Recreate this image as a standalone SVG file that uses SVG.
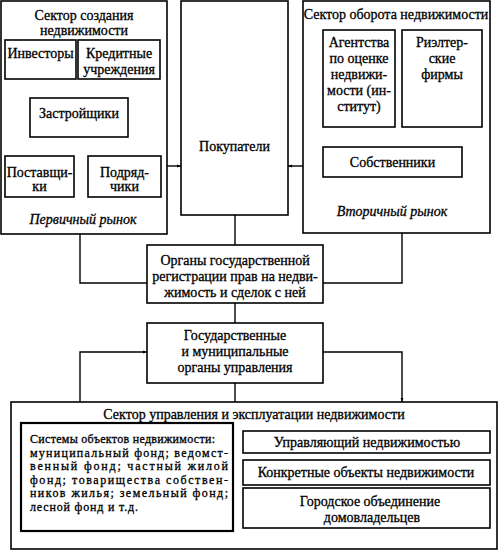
<svg xmlns="http://www.w3.org/2000/svg" width="500" height="551" viewBox="0 0 500 551" font-family="'Liberation Serif', 'DejaVu Serif', serif">
<defs>
<style>
.box{fill:#fff;stroke:#000;stroke-width:1.6}
.thick{fill:#fff;stroke:#000;stroke-width:2.2}
.ln{fill:none;stroke:#000;stroke-width:1.4}
.dot{fill:none;stroke:#000;stroke-width:1;stroke-dasharray:1.2 1.2}
text{font-family:'Liberation Serif','DejaVu Serif',serif;font-size:14px;fill:#000;text-anchor:middle;stroke:#000;stroke-width:0.3}
.it{font-style:italic}
.sm{font-size:12px;text-anchor:start}
</style>
<marker id="ah" markerUnits="userSpaceOnUse" markerWidth="4" markerHeight="4" refX="4" refY="2" orient="auto">
<path d="M0,0.6 L4,2 L0,3.4 Z" fill="#000"/>
</marker>
</defs>
<rect width="500" height="551" fill="#fff"/>

<g id="connectors">
<line class="ln" x1="59" y1="79" x2="59" y2="98"/>
<line class="ln" x1="98" y1="79" x2="98" y2="98"/>
<line class="ln" x1="59" y1="137" x2="59" y2="156"/>
<line class="ln" x1="98" y1="137" x2="98" y2="156"/>
<line class="ln" x1="74" y1="166" x2="88" y2="166"/>
<line class="ln" x1="167" y1="166" x2="181" y2="166" marker-end="url(#ah)"/>
<line class="ln" x1="303" y1="166" x2="288" y2="166" marker-end="url(#ah)"/>
<line class="ln" x1="352" y1="127" x2="352" y2="147" marker-end="url(#ah)"/>
<line class="ln" x1="430" y1="127" x2="430" y2="147" marker-end="url(#ah)"/>
<line class="ln" x1="235" y1="215" x2="235" y2="245"/>
<line class="ln" x1="235" y1="303" x2="235" y2="323"/>
<line class="ln" x1="235" y1="383" x2="235" y2="402"/>
<polyline class="ln" points="80,234 80,283 147,283"/>
<polyline class="ln" points="402,233 402,283 323,283"/>
<polyline class="ln" points="80,402 80,352 147,352" marker-end="url(#ah)"/>
<polyline class="ln" points="323,352 402,352 402,402" marker-end="url(#ah)"/>
<line class="dot" x1="233" y1="440" x2="243" y2="440"/>
<line class="ln" x1="233" y1="498" x2="243" y2="498"/>
<line class="ln" x1="372" y1="453" x2="372" y2="460"/>
<line class="ln" x1="372" y1="485" x2="372" y2="488"/>
</g>

<g id="sector-creation">
<rect class="box" x="1" y="1" width="166" height="233"/>
<text x="84" y="20">Сектор создания</text>
<text x="84" y="35">недвижимости</text>
<text class="it" x="83" y="224">Первичный рынок</text>
</g>
<g id="investors">
<rect class="box" x="5" y="40" width="71" height="39"/>
<text x="40.5" y="58">Инвесторы</text>
</g>
<g id="credit">
<rect class="box" x="78" y="40" width="82" height="39"/>
<text x="119" y="58">Кредитные</text>
<text x="119" y="74">учреждения</text>
</g>
<g id="developers">
<rect class="box" x="30" y="98" width="98" height="39"/>
<text x="79" y="118">Застройщики</text>
</g>
<g id="suppliers">
<rect class="box" x="5" y="156" width="69" height="41"/>
<text x="39.5" y="177">Поставщи-</text>
<text x="39.5" y="191">ки</text>
</g>
<g id="contractors">
<rect class="box" x="88" y="156" width="73" height="41"/>
<text x="124.5" y="177">Подряд-</text>
<text x="124.5" y="191">чики</text>
</g>

<g id="buyers">
<rect class="box" x="181" y="1" width="107" height="214"/>
<text x="234.5" y="151">Покупатели</text>
</g>

<g id="sector-turnover">
<rect class="box" x="303" y="1" width="187" height="232"/>
<text x="396" y="19">Сектор оборота недвижимости</text>
<text class="it" x="392" y="216">Вторичный рынок</text>
</g>
<g id="agencies">
<rect class="box" x="323" y="30" width="72" height="97"/>
<text x="359" y="47">Агентства</text>
<text x="359" y="63">по оценке</text>
<text x="359" y="79">недвижи-</text>
<text x="359" y="95">мости (ин-</text>
<text x="359" y="111">ститут)</text>
</g>
<g id="realtors">
<rect class="box" x="402" y="30" width="80" height="97"/>
<text x="442" y="47">Риэлтер-</text>
<text x="442" y="63">ские</text>
<text x="442" y="79">фирмы</text>
</g>
<g id="owners">
<rect class="box" x="323" y="147" width="139" height="30"/>
<text x="392.5" y="167">Собственники</text>
</g>

<g id="registration">
<rect class="box" x="147" y="245" width="176" height="58"/>
<text x="235" y="265">Органы государственной</text>
<text x="235" y="281">регистрации прав на недви-</text>
<text x="235" y="297">жимость и сделок с ней</text>
</g>

<g id="government">
<rect class="box" x="147" y="323" width="176" height="60"/>
<text x="235" y="340">Государственные</text>
<text x="235" y="356">и муниципальные</text>
<text x="235" y="372">органы управления</text>
</g>

<g id="sector-management">
<rect class="box" x="11" y="402" width="486" height="147"/>
<text x="254" y="419">Сектор управления и эксплуатации недвижимости</text>
</g>
<g id="systems">
<rect class="thick" x="21" y="423" width="212" height="108"/>
<text class="sm" x="30" y="443" textLength="185" lengthAdjust="spacing">Системы объектов недвижимости:</text>
<text class="sm" x="30" y="456.5" textLength="198" lengthAdjust="spacing">муниципальный фонд; ведомст-</text>
<text class="sm" x="30" y="470" textLength="198" lengthAdjust="spacing">венный фонд; частный жилой</text>
<text class="sm" x="30" y="483.5" textLength="198" lengthAdjust="spacing">фонд; товарищества собствен-</text>
<text class="sm" x="30" y="497" textLength="198" lengthAdjust="spacing">ников жилья; земельный фонд;</text>
<text class="sm" x="30" y="510.5" textLength="108" lengthAdjust="spacing">лесной фонд и т.д.</text>
</g>
<g id="manager">
<rect class="box" x="243" y="431" width="247" height="22"/>
<text x="367" y="447">Управляющий недвижимостью</text>
</g>
<g id="objects">
<rect class="box" x="243" y="460" width="247" height="25"/>
<text x="366" y="477">Конкретные объекты недвижимости</text>
</g>
<g id="association">
<rect class="box" x="243" y="488" width="247" height="40"/>
<text x="370" y="506">Городское объединение</text>
<text x="372" y="522">домовладельцев</text>
</g>
</svg>
